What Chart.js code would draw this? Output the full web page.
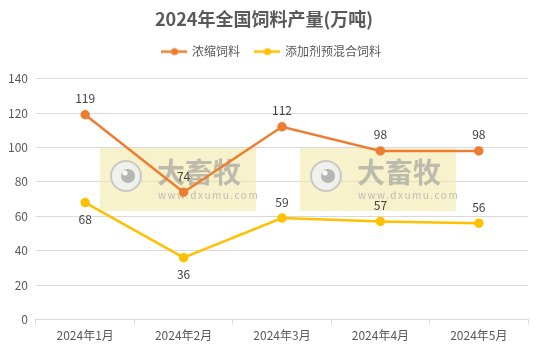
<!DOCTYPE html>
<html><head><meta charset="utf-8">
<script src="https://cdn.jsdelivr.net/npm/chart.js@4.4.1/dist/chart.umd.min.js"></script>
<style>html,body{margin:0;padding:0;background:#fff}#wrap{width:538px;height:351px}</style>
</head><body><div id="wrap"><canvas id="c"></canvas></div>
<script>
const categories = ['2024年1月','2024年2月','2024年3月','2024年4月','2024年5月'];
const concentrate = [119, 74, 112, 98, 98];
const premix = [68, 36, 59, 57, 56];
const seriesNames = ['浓缩饲料','添加剂预混合饲料'];
const yTicks = [0,20,40,60,80,100,120,140];

const FONT = '"Noto Sans CJK SC","Microsoft YaHei",sans-serif';
const ORANGE = '#ED7D31', YELLOW = '#FFC000', TEXT = '#595959', GRID = '#d9d9d9';

function legendIcon(color){
  const cv = document.createElement('canvas'); cv.width = 26; cv.height = 10;
  const g = cv.getContext('2d');
  g.strokeStyle = color; g.lineWidth = 2.5; g.beginPath(); g.moveTo(0,5); g.lineTo(26,5); g.stroke();
  g.fillStyle = color; g.beginPath(); g.arc(13,5,3.5,0,Math.PI*2); g.fill();
  return cv;
}

const legendSpacer = {
  id:'legendSpacer',
  afterInit(chart){
    const lg = chart.legend;
    if(!lg) return;
    const orig = lg.fit.bind(lg);
    lg.fit = function(){ orig(); this.height += 11; };
    const origDraw = lg.draw.bind(lg);
    lg.draw = function(){ const c = this.ctx; c.save(); c.translate(8,0); origDraw(); c.restore(); };
  }
};

const watermark = {
  id:'watermark',
  beforeDatasetsDraw(chart){
    const ctx = chart.ctx;
    [0,200].forEach(dx=>{
      ctx.save();
      ctx.fillStyle = 'rgba(242,234,170,0.6)';
      ctx.fillRect(100+dx,148,156,63);
      ctx.beginPath(); ctx.arc(126+dx,176,15,0,Math.PI*2);
      ctx.fillStyle='rgba(240,240,240,0.9)'; ctx.fill();
      ctx.lineWidth=2; ctx.strokeStyle='rgba(195,195,195,0.9)'; ctx.stroke();
      ctx.beginPath(); ctx.arc(128+dx,176,7,0,Math.PI*2);
      ctx.fillStyle='rgba(175,175,175,0.9)'; ctx.fill();
      ctx.beginPath(); ctx.arc(125+dx,173,2.5,0,Math.PI*2);
      ctx.fillStyle='#fff'; ctx.fill();
      ctx.fillStyle='rgba(150,150,150,0.6)';
      ctx.font = 'bold 28px '+FONT; ctx.textAlign='left'; ctx.textBaseline='middle';
      ctx.fillText('大畜牧',157+dx,172);
      ctx.font = '10px '+FONT; ctx.fillStyle='rgba(170,170,170,0.75)';
      try{ ctx.letterSpacing='1.5px'; }catch(e){}
      ctx.fillText('www.dxumu.com',158+dx,195);
      ctx.restore();
    });
  }
};

const dataLabels = {
  id:'dataLabels',
  afterDatasetsDraw(chart){
    const ctx = chart.ctx;
    ctx.save();
    ctx.font = '12px '+FONT; ctx.fillStyle = '#404040';
    ctx.textAlign='center'; ctx.textBaseline='middle';
    chart.data.datasets.forEach((ds,i)=>{
      const meta = chart.getDatasetMeta(i);
      meta.data.forEach((pt,j)=>{
        const pos = ds.labelPos[j];
        const y = pos==='above' ? pt.y-16 : pt.y+17;
        ctx.fillText(String(ds.data[j]), pt.x, y);
      });
    });
    ctx.restore();
  }
};

new Chart(document.getElementById('c'),{
  type:'line',
  data:{
    labels:categories,
    datasets:[
      {label:seriesNames[0],data:concentrate,borderColor:ORANGE,backgroundColor:ORANGE,borderWidth:2.5,pointRadius:3.5,pointHoverRadius:3.5,tension:0,
       labelPos:['above','above','above','above','above']},
      {label:seriesNames[1],data:premix,borderColor:YELLOW,backgroundColor:YELLOW,borderWidth:2.5,pointRadius:3.5,pointHoverRadius:3.5,tension:0,
       labelPos:['below','below','above','above','above']}
    ]
  },
  options:{
    responsive:true, maintainAspectRatio:false, animation:false,
    layout:{padding:{left:0,right:10,top:0,bottom:4}},
    plugins:{
      title:{display:true,text:'2024年全国饲料产量(万吨)',color:TEXT,font:{family:FONT,size:18,weight:'bold'},padding:{top:8,bottom:0}},
      legend:{display:true,position:'top',
        labels:{color:TEXT,font:{family:FONT,size:12},usePointStyle:true,pointStyleWidth:23,boxHeight:10,padding:16,
          generateLabels(chart){
            return chart.data.datasets.map((ds,i)=>({text:ds.label,pointStyle:legendIcon(ds.borderColor),fillStyle:ds.borderColor,strokeStyle:ds.borderColor,lineWidth:0,datasetIndex:i,hidden:false,fontColor:TEXT}));
          }}},
      tooltip:{enabled:false}
    },
    scales:{
      x:{offset:true,
        grid:{offset:true,drawOnChartArea:false,drawTicks:true,tickLength:5,color:GRID},
        border:{display:true,color:GRID},
        ticks:{color:TEXT,font:{family:FONT,size:12},padding:4,maxRotation:0}},
      y:{min:0,max:140,
        afterBuildTicks(scale){scale.ticks = yTicks.map(v=>({value:v}));},
        grid:{color:GRID,drawTicks:false},
        border:{display:false},
        ticks:{color:TEXT,font:{family:FONT,size:12},padding:8}}
    }
  },
  plugins:[legendSpacer,watermark,dataLabels]
});
</script></body></html>
